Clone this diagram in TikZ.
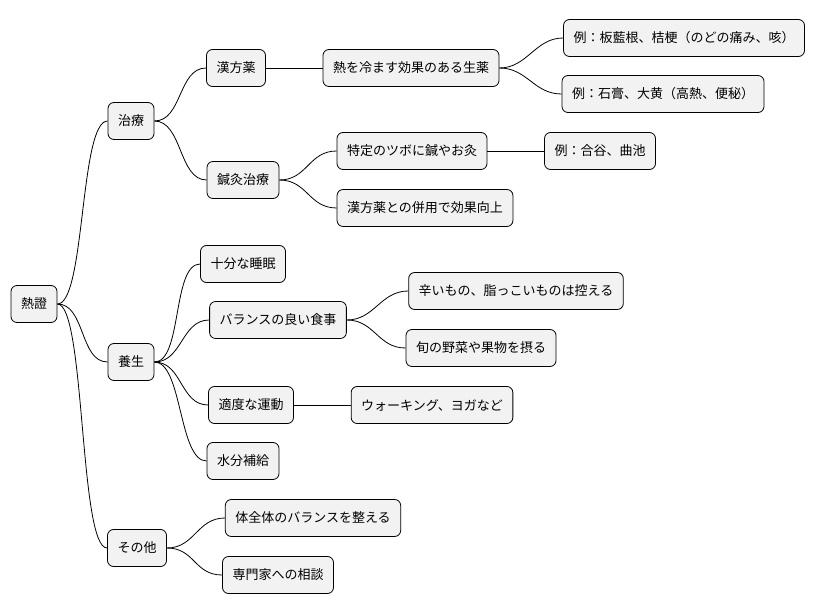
\documentclass[tikz,border=0pt]{standalone}
\usepackage{fontspec}
\setmainfont{Noto Sans CJK JP}
\begin{document}
\begin{tikzpicture}[x=1pt,y=-1pt,
  box/.style={draw=black,line width=0.8pt,fill=gray!10,rounded corners=6pt,minimum height=37pt,inner xsep=10pt,font=\fontsize{13}{15}\selectfont},
  lk/.style={draw=black,line width=0.8pt}]
\useasboundingbox (0,0) rectangle (824,612);
\node[box] (r) at (34,304) {熱證};
\node[box] (a) at (131,121) {治療};
\node[box] (b) at (131,362) {養生};
\node[box] (c) at (137,548) {その他};
\node[box] (a1) at (236,68) {漢方薬};
\node[box] (a11) at (411,68) {熱を冷ます効果のある生薬};
\node[box] (a111) at (684,38) {例：板藍根、桔梗（のどの痛み、咳）};
\node[box] (a112) at (663,94) {例：石膏、大黄（高熱、便秘）};
\node[box] (a2) at (243,180) {鍼灸治療};
\node[box] (a21) at (412,151) {特定のツボに鍼やお灸};
\node[box] (a211) at (600,151) {例：合谷、曲池};
\node[box] (a22) at (425,208) {漢方薬との併用で効果向上};
\node[box] (b1) at (243,264) {十分な睡眠};
\node[box] (b2) at (278,320) {バランスの良い食事};
\node[box] (b21) at (516,291) {辛いもの、脂っこいものは控える};
\node[box] (b22) at (481,348) {旬の野菜や果物を摂る};
\node[box] (b3) at (251,405) {適度な運動};
\node[box] (b31) at (432,405) {ウォーキング、ヨガなど};
\node[box] (b4) at (243,461) {水分補給};
\node[box] (c1) at (313,518) {体全体のバランスを整える};
\node[box] (c2) at (278,575) {専門家への相談};
\foreach \p/\q in {r/a,r/b,r/c,a/a1,a/a2,a1/a11,a11/a111,a11/a112,a2/a21,a2/a22,a21/a211,b/b1,b/b2,b/b3,b/b4,b2/b21,b2/b22,b3/b31,c/c1,c/c2}
  \draw[lk] (\p.east) .. controls ([xshift=28pt]\p.east) and ([xshift=-28pt]\q.west) .. (\q.west);
\end{tikzpicture}
\end{document}
